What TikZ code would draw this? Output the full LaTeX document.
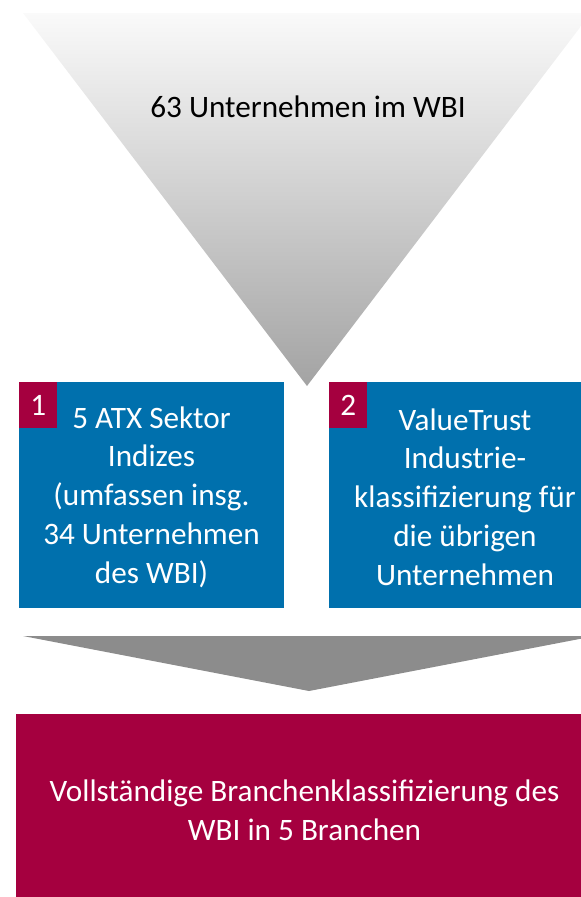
\documentclass[tikz,border=0pt]{standalone}
\usepackage{fontspec}
\setmainfont{Carlito}
\definecolor{vtblue}{HTML}{0070AD}
\definecolor{vtred}{HTML}{A5003F}
\definecolor{vtgray}{HTML}{8C8C8C}
\begin{document}
\begin{tikzpicture}[x=0.75pt,y=-0.75pt,
  txt/.style={font=\fontsize{23.4}{29.1}\selectfont, align=center, inner sep=0pt},
  numbox/.style={fill=vtred, text=white, minimum width=28.5pt, minimum height=34.5pt, anchor=north west, inner sep=0pt, font=\fontsize{23.4}{27}\selectfont}]
\useasboundingbox (0,0) rectangle (581,897);
\clip (0,0) rectangle (581,897);
% top funnel
\shade[top color=black!2, middle color=black!10, bottom color=black!36] (23,13) -- (591,13) -- (307,386) -- cycle;
\node[txt] (top) at (308,107) {63 Unternehmen im WBI};
% box 1
\fill[vtblue] (19,382) rectangle (284,608);
\coordinate (b1) at (151.5,497);
\node[numbox] (n1) at (19,382) {1};
\node[txt, text=white] (t1) at (b1) {5 ATX Sektor\\Indizes\\(umfassen insg.\\34 Unternehmen\\des WBI)};
% box 2
\fill[vtblue] (329,382) rectangle (601,608);
\coordinate (b2) at (465,497);
\node[numbox] (n2) at (329,382) {2};
\node[txt, text=white] (t2) at (b2) {ValueTrust\\Industrie-\\klassifizierung für\\die übrigen\\Unternehmen};
% gray arrow
\fill[vtgray] (23,636) -- (595,636) -- (309,691) -- cycle;
% bottom box
\fill[vtred] (16,714) rectangle (593,900);
\node[txt, text=white] (bot) at (304.5,810) {Vollständige Branchenklassifizierung des\\WBI in 5 Branchen};
\end{tikzpicture}
\end{document}
